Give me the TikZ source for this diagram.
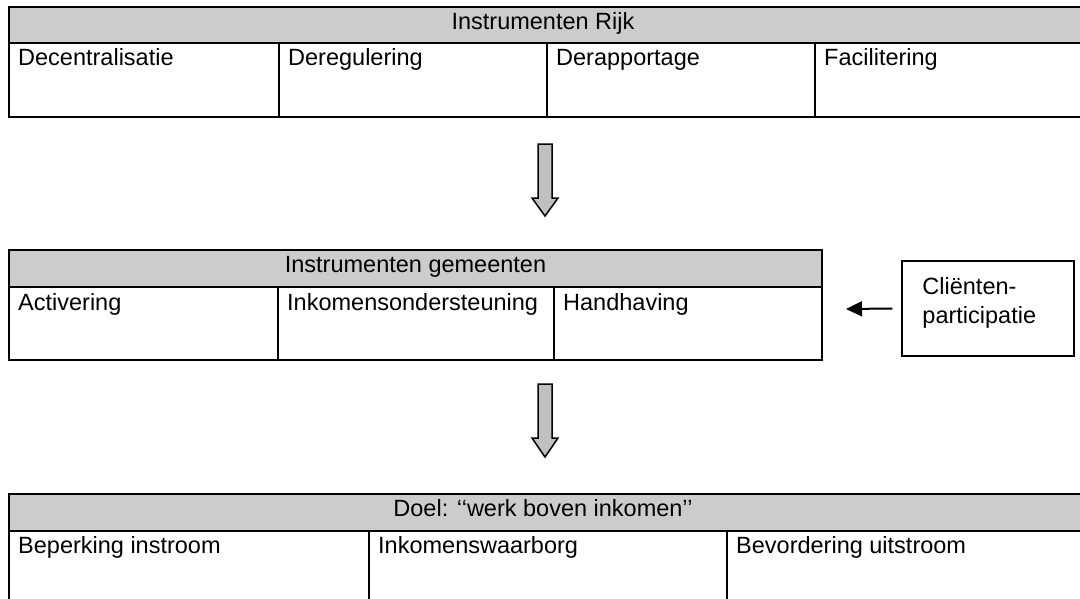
\documentclass[tikz,border=0pt]{standalone}
\usepackage{fontspec}
\setmainfont{Liberation Sans}
\usetikzlibrary{arrows.meta}

\definecolor{headgray}{RGB}{204,204,204}
\definecolor{arrowgray}{RGB}{192,192,192}

\tikzset{
  head/.style={fill=headgray,draw=black,line width=2pt},
  body/.style={draw=black,line width=2pt},
  cell/.style={anchor=base west,inner sep=0pt},
  title/.style={anchor=base,inner sep=0pt},
  blockarr/.style={draw=black,line width=1.5pt,fill=arrowgray,line join=miter},
  arr/.style={line width=2pt,-{Triangle[length=16pt,width=15pt]}}
}

\begin{document}
\begin{tikzpicture}[x=1pt,y=-1pt,font=\fontsize{23.5}{29}\selectfont]
\clip (0,0) rectangle (1080,598);

% instrumenten rijk
\draw[head] (9,7) rectangle (1090,43);
\draw[body] (9,43) rectangle (1090,117);
\foreach \xx in {279,547,815} \draw[body] (\xx,43) -- (\xx,117);
\node[title] (rijk) at (543,29) {Instrumenten Rijk};
\node[cell] (dec) at (18,65) {Decentralisatie};
\node[cell] (dereg) at (288,65) {Deregulering};
\node[cell] (derap) at (556,65) {Derapportage};
\node[cell] (fac) at (824,65) {Facilitering};

% pijl naar gemeenten
\draw[blockarr] (538,144) -- (552,144) -- (552,198) -- (558,198) -- (545,216)
  -- (532,198) -- (538,198) -- cycle;

% instrumenten gemeenten
\draw[head] (9,250) rectangle (822,287);
\draw[body] (9,287) rectangle (822,360);
\foreach \xx in {278,554} \draw[body] (\xx,287) -- (\xx,360);
\node[title] (gem) at (415.5,272) {Instrumenten gemeenten};
\node[cell] (act) at (18,310) {Activering};
\node[cell] (ink) at (287,310) {Inkomensondersteuning};
\node[cell] (hand) at (563,310) {Handhaving};

% clientenparticipatie
\node[draw,line width=1.5pt,minimum width=172pt,minimum height=95pt,inner sep=0pt]
  (client) at (988,308.5) {};
\node[anchor=base west,align=left,inner sep=0pt]
  (clienttxt) at ([xshift=21pt,yshift=-63pt]client.north west)
  {Cliënten-\\participatie};
\coordinate (tip) at (846,309);
\draw[arr] ([xshift=-9pt]client.west) -- (tip);

% pijl naar doel
\draw[blockarr] (538,384) -- (552,384) -- (552,438) -- (558,438) -- (545,457)
  -- (532,438) -- (538,438) -- cycle;

% doel
\draw[head] (9,494) rectangle (1090,531);
\draw[body] (9,531) rectangle (1090,620);
\foreach \xx in {369,727} \draw[body] (\xx,531) -- (\xx,620);
\node[title] (doel) at (543,516) {Doel: ‘‘werk boven inkomen’’};
\node[cell] (bep) at (18,553) {Beperking instroom};
\node[cell] (waar) at (378,553) {Inkomenswaarborg};
\node[cell] (bev) at (736,553) {Bevordering uitstroom};
\end{tikzpicture}
\end{document}
